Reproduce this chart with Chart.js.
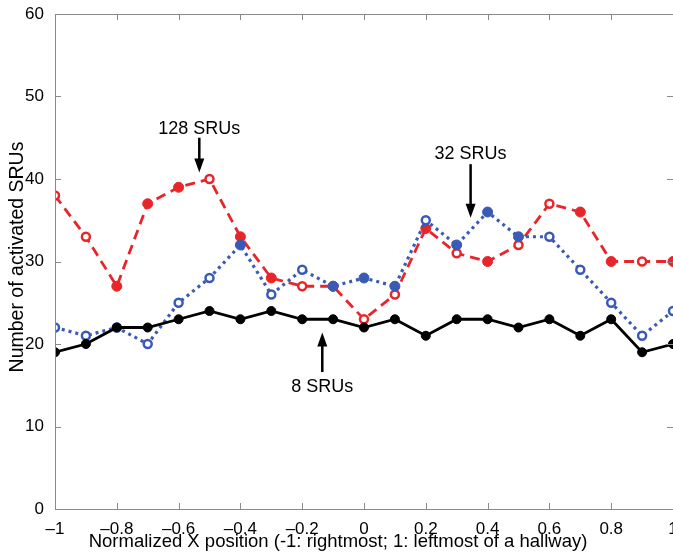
<!DOCTYPE html>
<html>
<head>
<meta charset="utf-8">
<script src="https://cdn.jsdelivr.net/npm/chart.js@4"></script>
<style>
	html, body { margin: 0; padding: 0; background: #fff; overflow: hidden; }
	#wrap { width: 690px; height: 553px; }
</style>
</head>
<body>
<div id="wrap"><canvas id="chart"></canvas></div>
<script>
// normalized x position of each sample
const xPos = [-1, -0.9, -0.8, -0.7, -0.6, -0.5, -0.4, -0.3, -0.2, -0.1, 0, 0.1, 0.2, 0.3, 0.4, 0.5, 0.6, 0.7, 0.8, 0.9, 1];
const srus8 = [19, 20, 22, 22, 23, 24, 23, 24, 23, 23, 22, 23, 21, 23, 23, 22, 23, 21, 23, 19, 20];
const srus32 = [22, 21, 22, 20, 25, 28, 32, 26, 29, 27, 28, 27, 35, 32, 36, 33, 33, 29, 25, 21, 24];
const srus128 = [38, 33, 27, 37, 39, 40, 33, 28, 27, 27, 23, 26, 34, 31, 30, 32, 37, 36, 30, 30, 30];
const yTicks = [0, 10, 20, 30, 40, 50, 60];
const xTicks = [-1, -0.8, -0.6, -0.4, -0.2, 0, 0.2, 0.4, 0.6, 0.8, 1];

// which markers are drawn open (1) or filled (0)
const open32 = [1, 1, 1, 1, 1, 1, 0, 1, 1, 0, 0, 0, 1, 0, 0, 0, 1, 1, 1, 1, 1];
const open128 = [1, 1, 0, 0, 0, 1, 0, 0, 1, 0, 1, 1, 0, 1, 0, 1, 1, 0, 0, 1, 0];

// arrows: label, x, text y, arrow start y, arrow tip y (data units)
const notes = [
	{ text: "128 SRUs", x: -0.533, ty: 46.0, y0: 45.0, y1: 40.8 },
	{ text: "32 SRUs", x: 0.345, ty: 43.0, y0: 41.8, y1: 35.3 },
	{ text: "8 SRUs", x: -0.135, ty: 14.8, y0: 16.6, y1: 21.4 },
];

const FONT = "Liberation Sans, Arial, sans-serif";
const FRAME = "#8a8a8a";

const fmt = v => {
	const r = Math.round(v * 10) / 10;
	if (r === 0) return "0";
	if (r === 1 || r === -1) return r < 0 ? "\u2013" + Math.abs(r) : String(r);
	return (r < 0 ? "\u2013" : "") + Math.abs(r).toFixed(1);
};

const pts = arr => arr.map((y, i) => ({ x: xPos[i], y }));

const frame = {
	id: "frame",
	afterDatasetsDraw(chart) {
		const { ctx, chartArea: a, scales: { x, y } } = chart;
		ctx.save();
		ctx.strokeStyle = FRAME;
		ctx.lineWidth = 1;
		ctx.strokeRect(a.left + 0.5, a.top + 0.5, a.right - a.left, a.bottom - a.top);
		ctx.beginPath();
		xTicks.forEach(t => {
			const px = Math.round(x.getPixelForValue(t)) + 0.5;
			ctx.moveTo(px, a.bottom); ctx.lineTo(px, a.bottom - 6);
			ctx.moveTo(px, a.top); ctx.lineTo(px, a.top + 6);
		});
		yTicks.forEach(t => {
			const py = Math.round(y.getPixelForValue(t)) + 0.5;
			ctx.moveTo(a.left, py); ctx.lineTo(a.left + 6, py);
			ctx.moveTo(a.right, py); ctx.lineTo(a.right - 6, py);
		});
		ctx.stroke();

		// arrows and labels
		ctx.fillStyle = "#000";
		ctx.strokeStyle = "#000";
		ctx.font = "18px " + FONT;
		ctx.textAlign = "center";
		ctx.textBaseline = "middle";
		notes.forEach(n => {
			const px = x.getPixelForValue(n.x);
			const py0 = y.getPixelForValue(n.y0);
			const py1 = y.getPixelForValue(n.y1);
			ctx.fillText(n.text, px, y.getPixelForValue(n.ty));
			const dir = py1 > py0 ? 1 : -1;
			ctx.lineWidth = 2.5;
			ctx.beginPath();
			ctx.moveTo(px, py0);
			ctx.lineTo(px, py1 - dir * 10);
			ctx.stroke();
			ctx.beginPath();
			ctx.moveTo(px, py1);
			ctx.lineTo(px - 5, py1 - dir * 14);
			ctx.lineTo(px + 5, py1 - dir * 14);
			ctx.closePath();
			ctx.fill();
		});

		// axis titles
		ctx.font = "18.5px " + FONT;
		ctx.fillText("Normalized X position (-1: rightmost; 1: leftmost of a hallway)", 338, 542);
		ctx.translate(18, 257);
		ctx.rotate(-Math.PI / 2);
		ctx.font = "19.5px " + FONT;
		ctx.fillText("Number of activated SRUs", 0, 0);
		ctx.restore();
	}
};

new Chart(document.getElementById("chart"), {
	type: "line",
	data: {
		datasets: [
			{
				label: "8 SRUs",
				data: pts(srus8),
				borderColor: "#000",
				backgroundColor: "#000",
				pointBackgroundColor: "#000",
				pointBorderColor: "#000",
				borderWidth: 2.8,
				pointRadius: 4.5,
				pointBorderWidth: 1,
			},
			{
				label: "32 SRUs",
				data: pts(srus32),
				borderColor: "#3a5bb5",
				pointBorderColor: "#3a5bb5",
				pointBackgroundColor: open32.map(o => o ? "#fff" : "#3a5bb5"),
				borderWidth: 3.2,
				borderDash: [3, 4],
				pointRadius: open32.map(o => o ? 4 : 5),
				pointBorderWidth: open32.map(o => o ? 2.5 : 1),
			},
			{
				label: "128 SRUs",
				data: pts(srus128),
				borderColor: "#e8262a",
				pointBorderColor: "#e8262a",
				pointBackgroundColor: open128.map(o => o ? "#fff" : "#e8262a"),
				borderWidth: 2.8,
				borderDash: [10, 6],
				pointRadius: open128.map(o => o ? 4 : 5),
				pointBorderWidth: open128.map(o => o ? 2.5 : 1),
			},
		],
	},
	options: {
		responsive: true,
		maintainAspectRatio: false,
		animation: false,
		layout: { padding: { top: 14, right: 17, left: 0, bottom: 0 } },
		plugins: {
			legend: { display: false },
			tooltip: { enabled: false },
		},
		scales: {
			x: {
				type: "linear",
				min: -1,
				max: 1,
				afterBuildTicks: s => { s.ticks = xTicks.map(v => ({ value: v })); },
				afterFit: s => { s.height = 44; },
				grid: { display: false },
				border: { display: false },
				ticks: {
					color: "#000",
					font: { size: 17, family: FONT },
					padding: 2,
					maxRotation: 0,
					autoSkip: false,
					callback: v => fmt(v),
				},
			},
			y: {
				min: 0,
				max: 60,
				afterBuildTicks: s => { s.ticks = yTicks.map(v => ({ value: v })); },
				afterFit: s => { s.width = 55; },
				grid: { display: false },
				border: { display: false },
				ticks: {
					color: "#000",
					font: { size: 17, family: FONT },
					padding: 3,
				},
			},
		},
	},
	plugins: [frame],
});
</script>
</body>
</html>
